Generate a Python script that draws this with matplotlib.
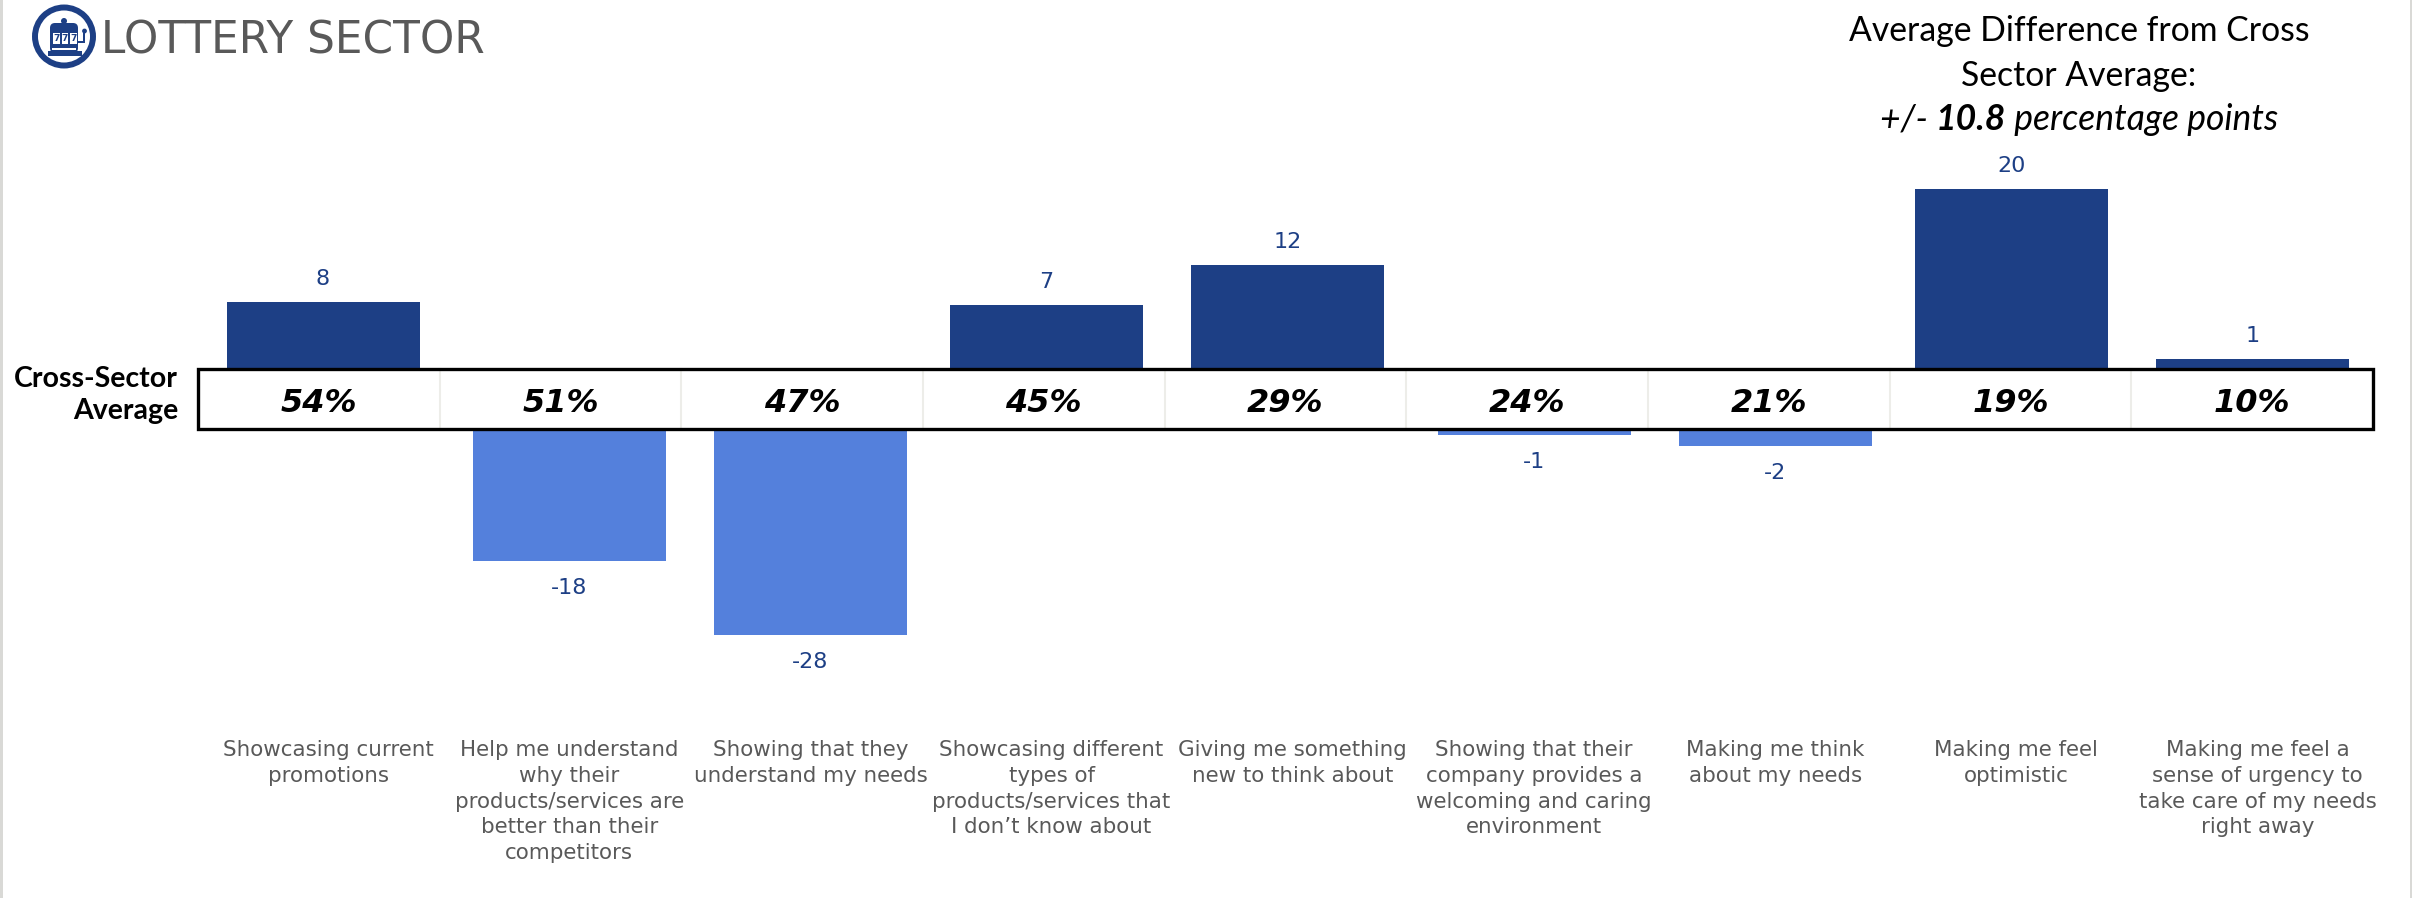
import matplotlib
matplotlib.use('Agg')
from matplotlib import pyplot as plt
from matplotlib.patches import Circle, Rectangle, FancyBboxPatch

W, H = 2412, 898

categories = [
    "Showcasing current\npromotions",
    "Help me understand\nwhy their\nproducts/services are\nbetter than their\ncompetitors",
    "Showing that they\nunderstand my needs",
    "Showcasing different\ntypes of\nproducts/services that\nI don\u2019t know about",
    "Giving me something\nnew to think about",
    "Showing that their\ncompany provides a\nwelcoming and caring\nenvironment",
    "Making me think\nabout my needs",
    "Making me feel\noptimistic",
    "Making me feel a\nsense of urgency to\ntake care of my needs\nright away",
]
cross_sector = ["54%", "51%", "47%", "45%", "29%", "24%", "21%", "19%", "10%"]
difference = [7.5, -17.8, -27.8, 7.2, 11.7, -0.8, -2.3, 20.2, 1.1]
diff_labels = ["8", "-18", "-28", "7", "12", "-1", "-2", "20", "1"]

DARK = '#1D3F85'
LIGHT = '#5480DC'
GREY = '#595959'
LABEL_BLUE = '#1D3F85'
CALIBRI = 'Lato'

# pixel layout of the picture
BAND_TOP, BAND_BOTTOM = 369, 429
BAND_LEFT, BAND_RIGHT = 198, 2373
FIRST_BAR, STEP = 323, 241.2
BAR_W = 193 / STEP
UP_SCALE, DOWN_SCALE = 8.9, 7.4


def make_axes(fig, top, bottom, first_bar):
    ax = fig.add_axes([0, 1 - bottom / H, 1, (bottom - top) / H])
    ax.set_xlim(-first_bar / STEP, (W - first_bar) / STEP)
    ax.axis('off')
    return ax


def draw_logo(ax):
    ax.add_patch(Circle((64, 36.5), 29, fc='white', ec=DARK, lw=4.3))
    ax.add_patch(FancyBboxPatch((50, 23), 28, 30, boxstyle='round,pad=0,rounding_size=5', fc=DARK, ec='none'))
    ax.add_patch(Rectangle((48, 51), 34, 5, fc=DARK, ec='none'))
    ax.add_patch(Circle((64, 21), 3, fc=DARK, ec='none'))
    ax.add_patch(Rectangle((52, 48), 24, 1.6, fc='white', ec='none'))
    ax.add_patch(Rectangle((78, 41), 6, 2, fc=DARK, ec='none'))
    ax.add_patch(Rectangle((83, 32), 2, 11, fc=DARK, ec='none'))
    ax.add_patch(Circle((84.5, 31), 2.4, fc=DARK, ec='none'))
    for x in [53, 61.5, 70]:
        ax.add_patch(Rectangle((x, 33), 6.5, 11, fc='white', ec='none'))
        ax.text(x + 3.25, 38.5, '7', color=DARK, fontsize=6.5, fontweight='bold',
                ha='center', va='center')


def draw_mixed_line(fig, ax, pieces, center_x, y, size):
    # one line of text made of pieces in different weights, centred as a whole
    renderer = fig.canvas.get_renderer()
    texts = []
    widths = []
    for s, weight in pieces:
        t = ax.text(0, y, s, fontsize=size, family=CALIBRI, style='italic', fontweight=weight,
                    color='black', ha='left', va='center')
        texts.append(t)
        widths.append(t.get_window_extent(renderer).width)
    x = center_x - sum(widths) / 2
    for t, w in zip(texts, widths):
        t.set_x(x)
        x += w


def main():
    fig = plt.figure(figsize=(W / 100, H / 100), dpi=100, facecolor='white')

    # bars above the band
    ax_up = make_axes(fig, 0, BAND_TOP, FIRST_BAR)
    ax_up.set_ylim(0, BAND_TOP / UP_SCALE)
    # bars below the band sit a few pixels to the right in the reference
    ax_down = make_axes(fig, BAND_BOTTOM, H, FIRST_BAR + 5)
    ax_down.set_ylim(-(H - BAND_BOTTOM) / DOWN_SCALE, 0)

    for i, (v, lab) in enumerate(zip(difference, diff_labels)):
        if v > 0:
            ax_up.bar(i, v, width=BAR_W, color=DARK)
            ax_up.annotate(lab, (i, v), xytext=(0, 9.5), textcoords='offset points', ha='center',
                           va='bottom', fontsize=16, color=LABEL_BLUE)
        else:
            ax_down.bar(i, v, width=BAR_W, color=LIGHT)
            ax_down.annotate(lab, (i, v), xytext=(0, -12.5), textcoords='offset points', ha='center',
                             va='top', fontsize=16, color=LABEL_BLUE)

    # overlay in picture pixels for band, heading and labels
    ov = fig.add_axes([0, 0, 1, 1])
    ov.set_xlim(0, W)
    ov.set_ylim(H, 0)
    ov.axis('off')
    ov.patch.set_alpha(0)

    ov.add_patch(Rectangle((0, 0), 2.5, H, fc='#D9D9D6', ec='none'))
    ov.add_patch(Rectangle((W - 2.5, 0), 2.5, H, fc='#D9D9D6', ec='none'))

    ov.add_patch(Rectangle((BAND_LEFT, BAND_TOP), BAND_RIGHT - BAND_LEFT, BAND_BOTTOM - BAND_TOP,
                           fc='white', ec='none', zorder=2))
    cell = (BAND_RIGHT - BAND_LEFT) / len(cross_sector)
    for i, s in enumerate(cross_sector):
        if i > 0:
            ov.plot([BAND_LEFT + cell * i] * 2, [BAND_TOP, BAND_BOTTOM], color='#EDEDE9', lw=1.5, zorder=3)
        ov.text(BAND_LEFT + cell * (i + 0.5), BAND_TOP + 35, s, fontsize=23, fontweight='bold', style='italic',
                color='black', ha='center', va='center', zorder=4)
    ov.add_patch(Rectangle((BAND_LEFT, BAND_TOP), BAND_RIGHT - BAND_LEFT, BAND_BOTTOM - BAND_TOP,
                           fc='none', ec='black', lw=2.4, zorder=5))

    ov.text(178, 395, "Cross-Sector\nAverage", family=CALIBRI, fontweight='bold', fontsize=20.5, color='black',
            ha='right', va='center', linespacing=1.24)

    for i, s in enumerate(categories):
        ov.text(328 + 241.2 * i, 740, s, fontsize=15.4, color=GREY, ha='center', va='top', linespacing=1.36)

    draw_logo(ov)
    ov.text(101, 41, "LOTTERY SECTOR", fontsize=31.5, color=GREY, ha='left', va='center')

    ov.text(2079, 31, "Average Difference from Cross", family=CALIBRI, fontsize=24.3, color='black',
            ha='center', va='center')
    ov.text(2079, 76, "Sector Average:", family=CALIBRI, fontsize=24.3, color='black', ha='center', va='center')
    draw_mixed_line(fig, ov, [("+/- ", 'normal'), ("10.8", 'bold'), (" percentage points", 'normal')], 2079, 120, 25.6)

    fig.savefig('out.png', dpi=100)


main()
